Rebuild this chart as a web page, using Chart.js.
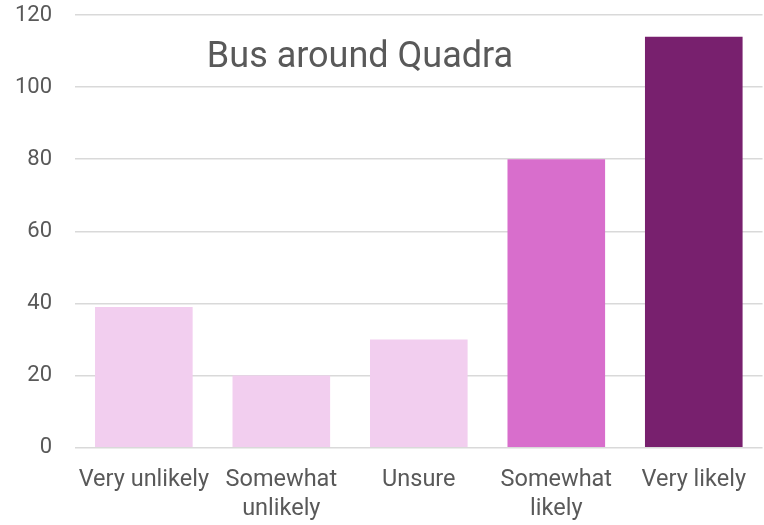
<!DOCTYPE html>
<html>
<head>
<meta charset="utf-8">
<script src="https://cdn.jsdelivr.net/npm/chart.js@4"></script>
<style>
	html, body { margin: 0; padding: 0; background: #fff; }
	#wrap { width: 764px; height: 525px; position: relative; }
</style>
</head>
<body>
<div id="wrap"><canvas id="bus-chart"></canvas></div>
<script>
var categories = [['Very unlikely'], ['Somewhat', 'unlikely'], ['Unsure'], ['Somewhat', 'likely'], ['Very likely']];
var responses = [39, 20, 30, 80, 114];
var barColors = ['#F2CEEF', '#F2CEEF', '#F2CEEF', '#D86ECC', '#78206E'];
var chartTitle = 'Bus around Quadra';

var fontFamily = 'Roboto, "Open Sans", sans-serif';

// title sits inside the plot area, like the excel original
var insideTitle = {
	id: 'insideTitle',
	afterDraw: function (chart) {
		var ctx = chart.ctx;
		ctx.save();
		ctx.font = '36px ' + fontFamily;
		ctx.fillStyle = '#595959';
		ctx.textAlign = 'center';
		ctx.textBaseline = 'middle';
		ctx.fillText(chartTitle, 360, 58);
		ctx.restore();
	}
};

var ctx = document.getElementById('bus-chart').getContext('2d');
var myChart = new Chart(ctx, {
	type: 'bar',
	data: {
		labels: categories,
		datasets: [{
			label: chartTitle,
			data: responses,
			backgroundColor: barColors,
			borderWidth: 0,
			categoryPercentage: 1,
			barPercentage: 0.71
		}]
	},
	options: {
		responsive: true,
		maintainAspectRatio: false,
		animation: false,
		// chart.js pads ticks on both sides, pull it back in
		layout: { padding: { top: 0, right: 0, left: -8, bottom: -17 } },
		plugins: {
			legend: { display: false },
			title: { display: false },
			tooltip: { enabled: false }
		},
		scales: {
			x: {
				grid: { display: false, drawTicks: false },
				border: { display: false },
				ticks: {
					color: '#595959',
					font: { family: fontFamily, size: 23.5, lineHeight: 1.24 },
					padding: 18,
					maxRotation: 0
				}
			},
			y: {
				min: 0,
				max: 120,
				grid: { color: '#D9D9D9', lineWidth: 1.5, drawTicks: false },
				border: { display: false },
				ticks: {
					stepSize: 20,
					color: '#595959',
					font: { family: fontFamily, size: 22 },
					padding: 23
				},
				afterFit: function (scale) {
					scale.paddingTop = 15;
				}
			}
		}
	},
	plugins: [insideTitle]
});
</script>
</body>
</html>
